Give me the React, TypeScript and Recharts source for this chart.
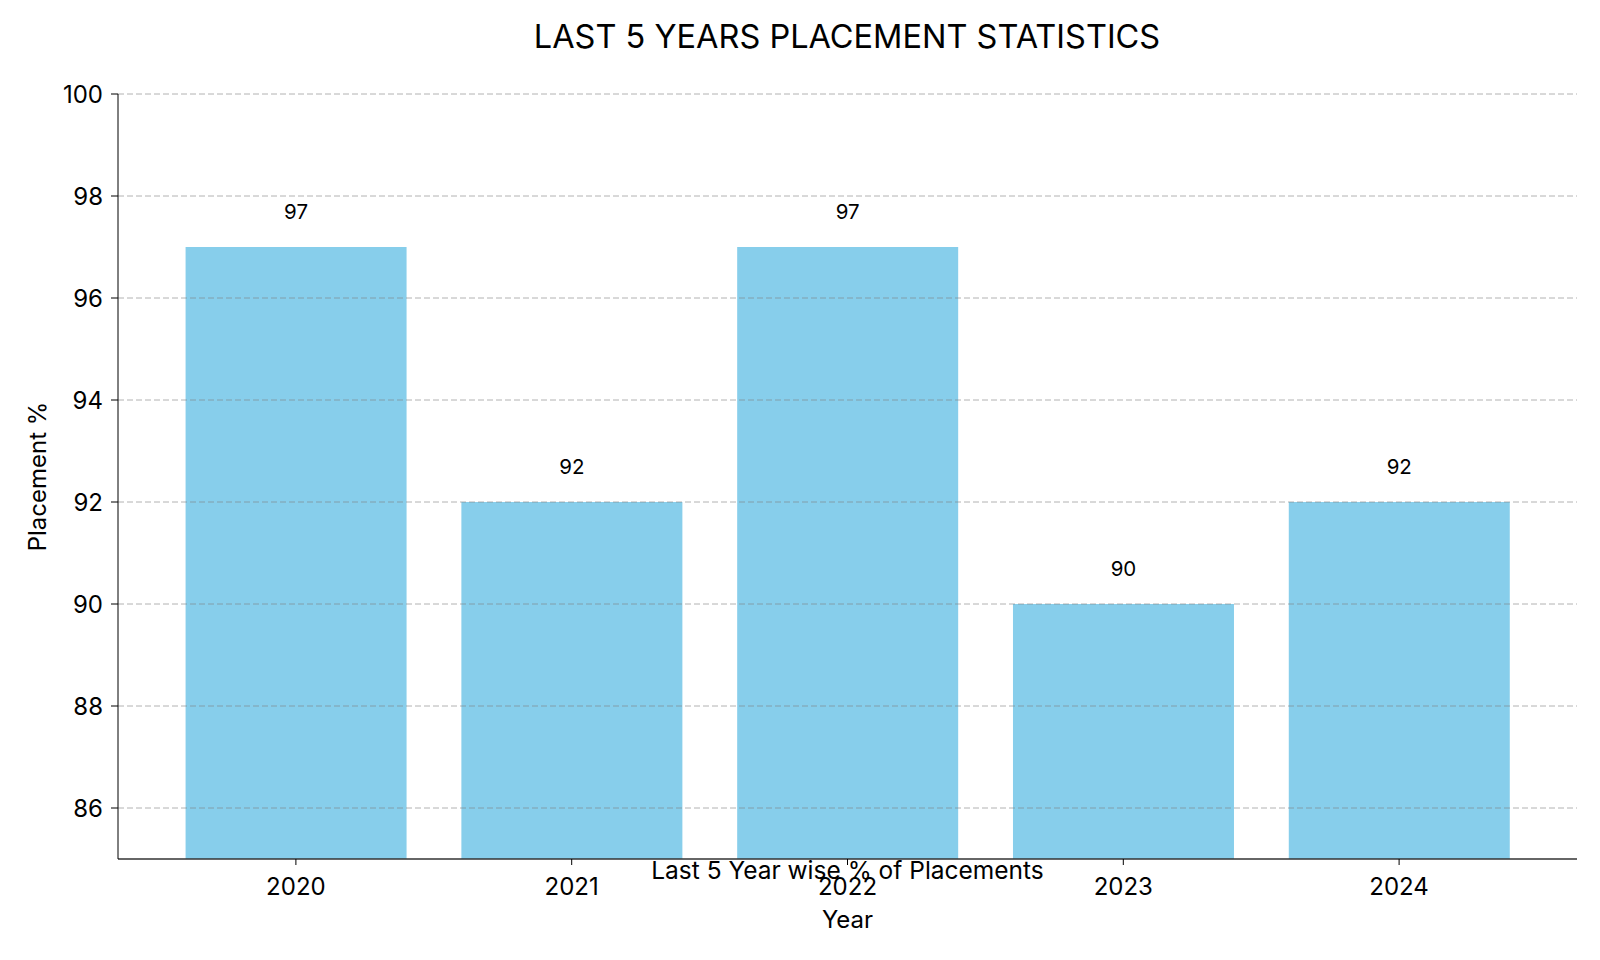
import { Bar, BarChart, Label, LabelList, ReferenceLine, XAxis, YAxis } from 'recharts'

const years = ['2020', '2021', '2022', '2023', '2024']
const placementPct = [97, 92, 97, 90, 92]
const yTicks = [86, 88, 90, 92, 94, 96, 98, 100]

const data = years.map((year, i) => ({ year, pct: placementPct[i] }))

const FONT = 'Inter, "Noto Sans", sans-serif'
const labelStyle = { fill: '#000', fontSize: 24, fontFamily: FONT }

export default function App() {
  return (
    <div style={{ position: 'absolute', left: 0, top: 0, width: 1600, height: 960, background: '#fff', fontFamily: FONT }}>
      <div
        style={{
          position: 'absolute',
          left: 0,
          width: 1694,
          top: 17,
          textAlign: 'center',
          fontSize: 32.5,
          color: '#000',
          lineHeight: '40px',
        }}
      >
        LAST 5 YEARS PLACEMENT STATISTICS
      </div>
      <BarChart
        width={1600}
        height={960}
        data={data}
        margin={{ top: 94, right: 23, bottom: 0, left: 0 }}
        barCategoryGap="10%"
      >
        <XAxis
          dataKey="year"
          height={101}
          padding={{ left: 40, right: 40 }}
          stroke="#333"
          strokeWidth={1.5}
          tickSize={6}
          tickMargin={13}
          tick={labelStyle}
          tickLine={{ stroke: '#000', strokeWidth: 1 }}
        >
          <Label value="Last 5 Year wise % of Placements" position="insideTop" offset={3} style={{ ...labelStyle, fontSize: 24.5 }} />
          <Label value="Year" position="insideTop" offset={52} style={labelStyle} />
        </XAxis>
        <YAxis
          width={118}
          domain={[85, 100]}
          ticks={yTicks}
          allowDataOverflow
          stroke="#000"
          tickSize={7}
          tickMargin={8}
          tick={labelStyle}
        >
          <Label
            value="Placement %"
            position="insideLeft"
            angle={-90}
            offset={37}
            style={{ ...labelStyle, textAnchor: 'middle' }}
          />
        </YAxis>
        <Bar dataKey="pct" fill="#87CEEB" isAnimationActive={false}>
          <LabelList
            dataKey="pct"
            position="top"
            offset={28}
            style={{ fill: '#000', fontSize: 20.5, fontFamily: FONT }}
          />
        </Bar>
        {yTicks.map((t) => (
          <ReferenceLine key={t} y={t} stroke="#808080" strokeOpacity={0.6} strokeDasharray="6 3" />
        ))}
      </BarChart>
    </div>
  )
}
